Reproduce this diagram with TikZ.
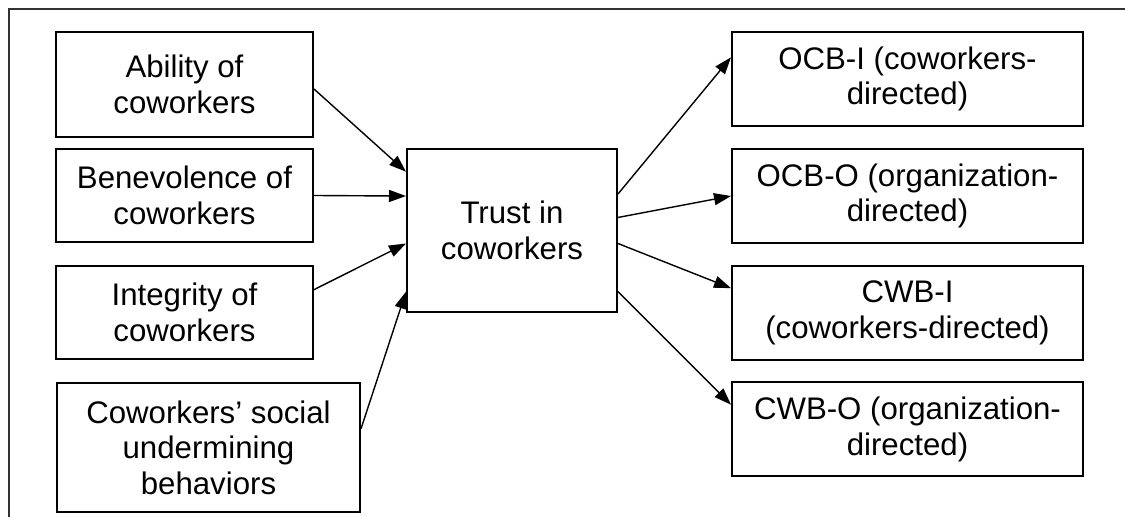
\documentclass[tikz,border=0pt]{standalone}
\usepackage{fontspec}
\setmainfont{Liberation Sans}
\usetikzlibrary{positioning,arrows.meta}

\tikzset{
  factor/.style={draw,line width=1pt,align=center,font=\fontsize{15.6}{17.7}\selectfont,inner sep=0pt},
  link/.style={-{Triangle[length=8.5pt,width=6pt]},line width=0.7pt}
}

\begin{document}
\begin{tikzpicture}[x=0.5pt,y=-0.5pt]
    \useasboundingbox (0,0) rectangle (1125,517);
    % frame (top and left sides only)
    \draw[line width=1pt,black!80] (9,517) -- (9,9) -- (1125,9);
    % antecedents
    \node[factor,minimum width=128.5pt,minimum height=52.5pt] (ab) at (184.5,84.5) {Ability of\\coworkers};
    \node[factor,minimum width=128.5pt,minimum height=46.5pt] (be) at (184.5,195.5) {Benevolence of\\coworkers};
    \node[factor,minimum width=128.5pt,minimum height=46.5pt] (in) at (184.5,312.5) {Integrity of\\coworkers};
    \node[factor,minimum width=151.5pt,minimum height=64.5pt] (su) at (208.5,447.5) {Coworkers' social\\undermining\\behaviors};
    % mediator
    \node[factor,minimum width=105pt,minimum height=81.5pt] (tc) at (512,230.5) {Trust in\\coworkers};
    % outcomes
    \node[factor,minimum width=175.5pt,minimum height=47pt] (oi) at (907.5,79) {OCB-I (coworkers-\\directed)};
    \node[factor,minimum width=175.5pt,minimum height=47pt] (oo) at (907.5,196) {OCB-O (organization-\\directed)};
    \node[factor,minimum width=175.5pt,minimum height=47pt] (ci) at (907.5,313) {CWB-I\\(coworkers-directed)};
    \node[factor,minimum width=175.5pt,minimum height=47pt] (co) at (907.5,429.5) {CWB-O (organization-\\directed)};
    % arrows into trust
    \foreach \x/\a/\b in {ab/-2/151,be/0/162,in/10/187,su/7/210}
        {\draw[link] (\x.\a) -- (tc.\b);}
    % arrows out of trust
    \foreach \a/\y/\b in {19/oi/173,7/oo/180,-7/ci/172,-30/co/172}
        {\draw[link] (tc.\a) -- (\y.\b);}
\end{tikzpicture}
\end{document}
